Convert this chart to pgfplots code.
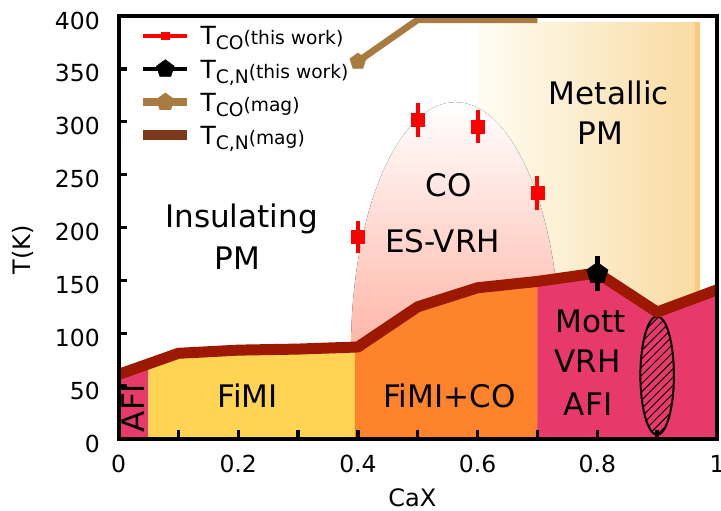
\documentclass[border=0pt]{standalone}
\usepackage{pgfplots}
\pgfplotsset{compat=1.18}
\usepackage{fontspec}
\setmainfont{DejaVu Sans}
\usetikzlibrary{patterns.meta,plotmarks}
\definecolor{cMag}{HTML}{E83A6A}
\definecolor{cYel}{HTML}{FFD452}
\definecolor{cOra}{HTML}{FF832B}
\definecolor{cLine}{HTML}{9C1800}
\definecolor{cBrown}{HTML}{7C3A1B}
\definecolor{cTan}{HTML}{A87B40}
\definecolor{cDome}{HTML}{FF6A4D}
\definecolor{cMetL}{HTML}{FEFDF3}
\definecolor{cMetR}{HTML}{FADBA3}
\definecolor{cMetS}{HTML}{FDCB7B}
\tikzset{lab/.style={font=\fontsize{23.3}{28}\selectfont, inner sep=0pt, anchor=base}}
\newcommand\Tl[1]{{\fontsize{18.75}{20}\selectfont T}\raisebox{-3.75pt}{#1}}
\begin{document}
\begin{tikzpicture}
\begin{axis}[name=ax,
  scale only axis, width=448.9pt, height=317.25pt,
  xmin=0, xmax=1, ymin=0, ymax=400,
  axis on top,
  axis line style={line width=3pt},
  tick align=inside, tick pos=left,
  major tick length=6.5pt,
  every tick/.style={line width=2.5pt, black},
  xtick={0,0.1,0.2,0.3,0.4,0.5,0.6,0.7,0.8,0.9,1},
  xticklabels={0,,0.2,,0.4,,0.6,,0.8,,1},
  ytick={0,50,100,150,200,250,300,350,400},
  yticklabels={0,50,100,150,200,250,300,350,400},
  xticklabel style={font=\fontsize{17.6}{20}\selectfont, anchor=base, inner sep=0pt, yshift=-25.5pt},
  yticklabel style={font=\fontsize{17.6}{20}\selectfont, anchor=east, inner sep=0pt, xshift=-13.9pt, yshift=-3.4pt},
  xlabel={CaX}, ylabel={T(K)},
  xlabel style={font=\fontsize{18}{20}\selectfont, at={(axis description cs:0.491,-0.160)}, anchor=base, inner sep=0pt},
  ylabel style={font=\fontsize{18}{20}\selectfont, at={(axis description cs:-0.1467,0.447)}, anchor=base, inner sep=0pt},
  legend style={draw=none, fill=none, inner sep=0pt, outer sep=0pt,
    at={(axis description cs:0.0331,0.9748)}, anchor=north west,
    font=\fontsize{14}{16}\selectfont, row sep=11.08pt, column sep=6.2pt,
    nodes={inner sep=0pt, text height=13.67pt, text depth=0pt}},
  legend cell align=left,
  legend image code/.code={\draw[mark repeat=2,mark phase=2,#1] plot coordinates {(0pt,0pt)(16.5pt,0pt)(33pt,0pt)};},
]
% legend images
\addlegendimage{color=red, line width=3.2pt, mark=square*, mark size=2.8pt, mark options={line width=0.3pt}}
\addlegendentry{\Tl{CO}(this work)}
\addlegendimage{color=black, line width=3pt, mark=pentagon*, mark size=7pt, mark options={line width=0.3pt}}
\addlegendentry{\Tl{C,N}(this work)}
\addlegendimage{color=cTan, line width=6pt, mark=pentagon*, mark size=7pt, mark options={line width=0.3pt}}
\addlegendentry{\Tl{CO}(mag)}
\addlegendimage{color=cBrown, line width=7.5pt}
\addlegendentry{\Tl{C,N}(mag)}

% metallic PM gradient
\fill[left color=cMetL, right color=cMetR] (axis cs:0.601,100) rectangle (axis cs:0.963,394);
\fill[cMetS] (axis cs:0.963,100) rectangle (axis cs:0.972,394);
% CO dome
\fill[top color=white, middle color=cDome, bottom color=cDome] (axis cs:0.563,84) ellipse [x radius=0.1746, y radius=234.5];

% phase fills
\addplot[fill=cMag, draw=none, forget plot] coordinates {(0,0)(0,61)(0.05,71)(0.05,0)} -- cycle;
\addplot[fill=cYel, draw=none, forget plot] coordinates {(0.05,0)(0.05,71)(0.1,81)(0.2,84)(0.3,85)(0.395,87)(0.395,0)} -- cycle;
\addplot[fill=cOra, draw=none, forget plot] coordinates {(0.395,0)(0.395,87)(0.4,87)(0.5,125)(0.6,143)(0.7,149)(0.7,0)} -- cycle;
\addplot[fill=cMag, draw=none, forget plot] coordinates {(0.7,0)(0.7,149)(0.8,157)(0.9,120)(1,141)(1,0)} -- cycle;

% hatched ellipse
\draw[line width=1.5pt, pattern={Lines[angle=45,distance=4.4pt,line width=0.7pt]}] (axis cs:0.9,60) ellipse [x radius=0.028, y radius=56];

% T_C,N (mag) line
\addplot[color=cLine, line width=8.25pt, line join=round, forget plot] coordinates {
(0,61)(0.1,81)(0.2,84)(0.3,85)(0.4,87)(0.5,125)(0.6,143)(0.7,149)(0.8,157)(0.9,120)(1.0,141)};

% T_CO (mag)
\addplot[color=cTan, line width=5pt, line join=round, mark=pentagon*, mark size=6.4pt, mark indices={1}, mark options={line width=0.3pt}, forget plot] coordinates {
(0.4,357)(0.5,396.5)(0.7,396.5)};

% T_CO (this work)
\addplot[only marks, color=red, mark=square*, mark size=5pt, mark options={line width=0.3pt}, forget plot,
  error bars/.cd, y dir=both, y explicit, error mark=none, error bar style={line width=3pt, red}] coordinates {
(0.4,191) +- (0,15)
(0.5,301.7) +- (0,16)
(0.6,295.5) +- (0,16)
(0.7,233) +- (0,16)};

% T_C,N (this work)
\addplot[only marks, color=black, mark=pentagon*, mark size=8.5pt, mark options={line width=0.3pt}, forget plot,
  error bars/.cd, y dir=both, y explicit, error mark=none, error bar style={line width=3.5pt, black}] coordinates {
(0.8,156.5) +- (0,17)};

% labels
\node[lab] at (axis cs:0.2055,199.7) {Insulating};
\node[lab] at (axis cs:0.1988,160.5) {PM};
\node[lab] at (axis cs:0.8195,316.2) {Metallic};
\node[lab] at (axis cs:0.805,278.4) {PM};
\node[lab] at (axis cs:0.552,229.5) {CO};
\node[lab] at (axis cs:0.5414,175.9) {ES-VRH};
\node[lab] at (axis cs:0.2155,30) {FiMI};
\node[lab] at (axis cs:0.553,30) {FiMI+CO};
\node[lab] at (axis cs:0.7886,101.1) {Mott};
\node[lab] at (axis cs:0.7836,62.4) {VRH};
\node[lab] at (axis cs:0.7845,22.4) {AFI};
\node[lab, rotate=90] at (axis cs:0.0431,29.3) {AFI};
\end{axis}
\pgfresetboundingbox
\path[use as bounding box] ([shift={(-88.9pt,-54pt)}]ax.south west) rectangle ([shift={(3pt,12pt)}]ax.north east);
\end{tikzpicture}
\end{document}
